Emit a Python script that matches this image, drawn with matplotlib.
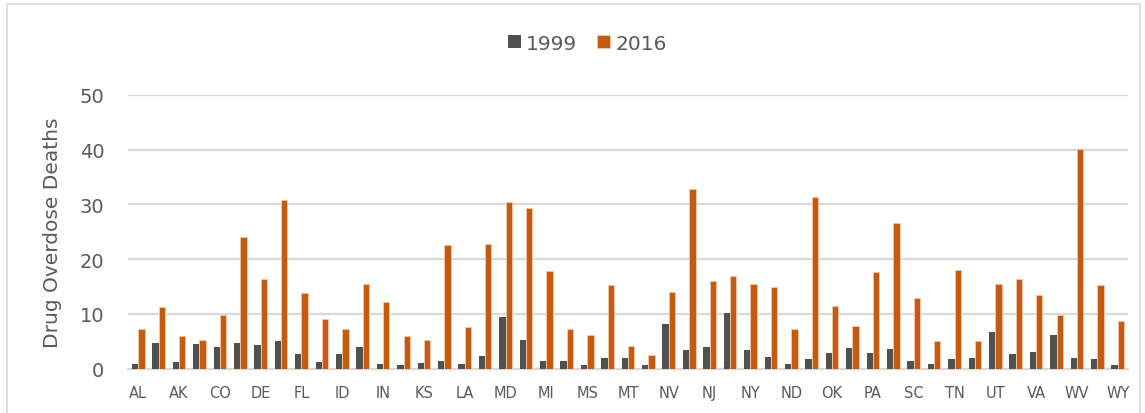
import matplotlib.pyplot as plt
import numpy as np
from matplotlib.patches import Rectangle

# categories (only every other one gets a label in the chart)
estados = ["AL", "AZ", "AK", "AR", "CO", "CT", "DE", "DC", "FL", "GA",
           "ID", "IL", "IN", "IA", "KS", "KY", "LA", "ME", "MD", "MA",
           "MI", "MN", "MS", "MO", "MT", "NE", "NV", "NH", "NJ", "NM",
           "NY", "NC", "ND", "OH", "OK", "OR", "PA", "RI", "SC", "SD",
           "TN", "TX", "UT", "VT", "VA", "WA", "WV", "WI", "WY"]

muertes_1999 = [0.9, 4.7, 1.2, 4.5, 4.0, 4.6, 4.3, 5.1, 2.7, 1.2,
                2.6, 4.0, 0.9, 0.6, 1.0, 1.4, 0.8, 2.3, 9.4, 5.3,
                1.4, 1.3, 0.6, 2.0, 2.0, 0.6, 8.1, 3.4, 4.0, 10.2,
                3.4, 2.1, 0.9, 1.7, 2.8, 3.7, 2.8, 3.6, 1.4, 0.9,
                1.7, 1.9, 6.6, 2.6, 3.0, 6.2, 2.0, 1.7, 0.6]

muertes_2016 = [7.3, 11.2, 5.9, 5.2, 9.8, 24.0, 16.3, 30.8, 13.8, 9.0,
                7.3, 15.4, 12.1, 5.9, 5.2, 22.5, 7.6, 22.7, 30.5, 29.4,
                17.9, 7.3, 6.2, 15.2, 4.2, 2.5, 14.0, 32.9, 16.0, 17.0,
                15.4, 14.9, 7.3, 31.3, 11.5, 7.8, 17.7, 26.6, 12.9, 5.1,
                18.0, 5.1, 15.4, 16.3, 13.5, 9.8, 40.2, 15.2, 8.7]

color_1999 = "#505050"
color_2016 = "#C55A11"
gris = "#d9d9d9"

fig = plt.figure(figsize=(11.45, 4.14), dpi=100)
ax = fig.add_axes([128 / 1145, 1 - 369.5 / 414, 1000 / 1145, 273.5 / 414])

x = np.arange(len(estados))
ancho = 0.31
ax.bar(x - ancho / 2, muertes_1999, ancho, color=color_1999, label="1999",
       zorder=3)
ax.bar(x + ancho / 2, muertes_2016, ancho, color=color_2016, label="2016",
       edgecolor="#f3c9a8", linewidth=0.6, zorder=3)

ax.set_xlim(-0.5, len(estados) - 0.5)
ax.set_ylim(0, 50)
ax.set_yticks([0, 10, 20, 30, 40, 50])
ax.yaxis.grid(True, color=gris, linewidth=1.6, zorder=0)
ax.set_xticks(x[::2])
ax.set_xticklabels(estados[::2])

for s in ["top", "right", "left"]:
    ax.spines[s].set_visible(False)
ax.spines["bottom"].set_color(gris)
ax.spines["bottom"].set_linewidth(1.6)

ax.tick_params(axis="y", length=0, pad=17, labelsize=14, labelcolor="#595959")
ax.tick_params(axis="x", length=0, pad=12, labelsize=10.5, labelcolor="#595959")
ax.set_ylabel("Drug Overdose Deaths", fontsize=14.5, color="#595959", labelpad=13)

fig.legend(loc="center", bbox_to_anchor=(587 / 1145, 1 - 44 / 414), ncol=2,
           frameon=False, fontsize=14.5, handlelength=0.65, handleheight=0.65,
           handletextpad=0.25, columnspacing=1.0, labelcolor="#595959")

# marco del grafico
fig.patches.append(Rectangle((7 / 1145, -0.01), 1133 / 1145, 1 - 5 / 414 + 0.01,
                             transform=fig.transFigure, fill=False,
                             edgecolor=gris, linewidth=1.2))

fig.savefig("out.png", dpi=100)
